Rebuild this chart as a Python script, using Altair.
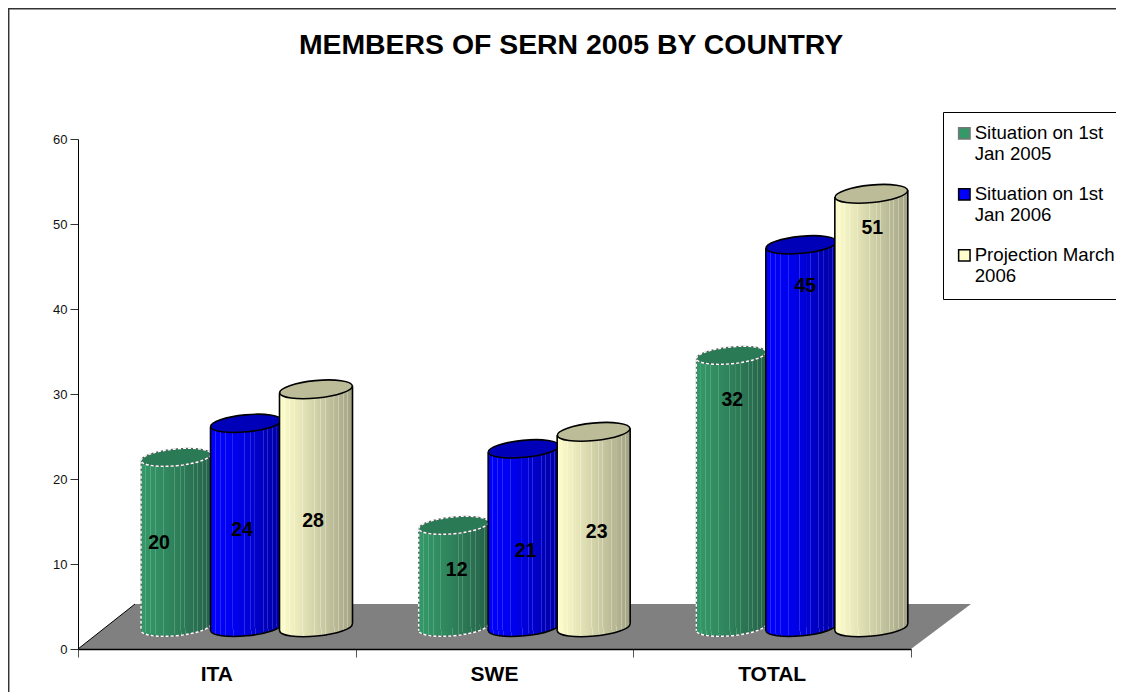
import altair as alt
import pandas as pd

categories = ["ITA", "SWE", "TOTAL"]
series = ["Situation on 1st Jan 2005", "Situation on 1st Jan 2006", "Projection March 2006"]
values_2005 = [20, 12, 32]
values_2006 = [24, 21, 45]
values_proj = [28, 23, 51]
all_values = [values_2005, values_2006, values_proj]

# --- layout constants (pixels of the reference, turned into data units below)
PW, PH = 833, 510
BAND = PW / 3
UNIT = PH / 60
BASE = 2.55                # cylinder base sits up the floor
TILT = 3.5 / UNIT
FIRST = 98 / BAND
STEP = 70 / BAND
half_w = [35, 35.5, 36.5]
floor_depth = 45 / UNIT

label_x_px = [[81, 164, 235], [101, 170, 241], [99, 172, 239]]
label_y_px = [[542, 529, 520], [569, 550, 531], [399, 285, 227]]

def lerp(c1, c2, t):
    a = [int(c1[i:i+2], 16) for i in (1, 3, 5)]
    b = [int(c2[i:i+2], 16) for i in (1, 3, 5)]
    return "#" + "".join(f"{round(x+(y-x)*t):02x}" for x, y in zip(a, b))

rib_pos = [.06, .13, .2, .31, .47, .56, .62, .74, .8, .87, .93]

def grad(c0, c1, c2, rib):
    def base(t):
        return lerp(c0, c1, t / .35) if t < .35 else lerp(c1, c2, (t - .35) / .65)
    stops = [{"offset": 0, "color": c0}, {"offset": .35, "color": c1}]
    for p in rib_pos:
        b = base(p)
        l = lerp(b, rib, .3)
        stops += [{"offset": p - .001, "color": b}, {"offset": p, "color": l},
                  {"offset": p + .012, "color": l}, {"offset": p + .013, "color": base(p + .013)}]
    stops.append({"offset": 1, "color": c2})
    stops.sort(key=lambda s: s["offset"])
    return {"x1": 0, "x2": 1, "y1": 0, "y2": 0, "gradient": "linear", "stops": stops}

grads = [grad("#349a69", "#30895f", "#26624a", "#9fd0b5"),
         grad("#0000ff", "#0000ee", "#0000a0", "#8a8aff"),
         grad("#ffffcc", "#e0e0b4", "#a3a384", "#ffffff")]
top_fill = ["#2a7a55", "#0000b8", "#bcbc98"]
swatch = ["#339966", "#0000ff", "#ffffcc"]
swatch_stroke = ["#777777", "#000000", "#000000"]

ELLIPSE = ("M-1,0 C-1,-0.1325 -0.5523,-0.24 0,-0.24 C0.5523,-0.24 1,-0.1325 1,0 "
           "C1,0.1325 0.5523,0.24 0,0.24 C-0.5523,0.24 -1,0.1325 -1,0 Z")

xs = alt.Scale(domain=[0, 3], nice=False)
ys = alt.Scale(domain=[0, 60], nice=False)
x_axis = alt.Axis(values=[0, 1, 2, 3], labels=False, title=None, grid=False, tickSize=8,
                  domainColor="black", domainWidth=1.3, tickColor="#555555", zindex=1)
y_axis = alt.Axis(values=list(range(0, 61, 10)), title=None, grid=False, tickSize=8,
                  domainColor="black", tickColor="#333333", labelFont="Liberation Sans",
                  labelFontSize=13, labelColor="#111111", labelPadding=3, zindex=1)
X = lambda f="x": alt.X(f"{f}:Q", scale=xs, axis=x_axis)
Y = lambda f="y": alt.Y(f"{f}:Q", scale=ys, axis=y_axis)

# records
centres = []
for j, s in enumerate(series):
    for i, c in enumerate(categories):
        centres.append({"country": c, "series": s, "j": j, "value": all_values[j][i],
                        "x": i + FIRST + j * STEP, "y": all_values[j][i] / 2 + BASE,
                        "ytop": all_values[j][i] + BASE, "ybase": BASE})
cdf = pd.DataFrame(centres)

# hidden behind the cylinders: gives the legend
legend_layer = alt.Chart(cdf).mark_point(filled=True, shape="square", size=20, opacity=1).encode(
    x=X(), y=Y(),
    fill=alt.Fill("series:N", scale=alt.Scale(domain=series, range=swatch), legend=alt.Legend(
        title=None, orient="none", legendX=865, legendY=-27, symbolType="square", symbolSize=130,
        symbolStrokeWidth=1.5, labelFont="Liberation Sans", labelFontSize=18.67, labelColor="black",
        labelLimit=190, labelOffset=1, strokeColor="black", fillColor="white", padding=12,
        cornerRadius=0, rowPadding=20, columnPadding=0,
        labelExpr="datum.label == 'Projection March 2006' ? ['Projection March', '2006'] : "
                  "[slice(datum.label, 0, 16), slice(datum.label, 17)]")),
    stroke=alt.Stroke("series:N", scale=alt.Scale(domain=series, range=swatch_stroke), legend=None),
)

# floor
fx0, fx1, fx2, fx3 = 0, 57 / BAND, 3, 3 + 60 / BAND
floor_df = pd.DataFrame({"x": [fx0, fx1, fx2, fx3],
                         "y": [0, floor_depth, floor_depth, floor_depth],
                         "y2": [0, 0, 0, floor_depth]})
floor = alt.Chart(floor_df).mark_area(fill="#808080", orient="vertical").encode(
    x=X(), y=Y(), y2="y2:Q")
floor_edge = alt.Chart(floor_df.iloc[:2]).mark_line(color="black", strokeWidth=1).encode(x=X(), y=Y())

layers = [legend_layer, floor, floor_edge]

for j in range(3):
    d = cdf[cdf.j == j]
    hw = half_w[j] / BAND
    size = (2 * half_w[j]) ** 2
    is_green = j == 0
    body_rows = []
    for rec in d.to_dict("records"):
        body_rows.append({"country": rec["country"], "x": rec["x"] - hw,
                          "y": rec["ytop"] - TILT, "y2": rec["ybase"] - TILT})
        body_rows.append({"country": rec["country"], "x": rec["x"] + hw,
                          "y": rec["ytop"] + TILT, "y2": rec["ybase"] + TILT})
    bdf = pd.DataFrame(body_rows)

    def ellipse(field, fill, stroke, width, dash=None):
        kw = dict(filled=True, shape=ELLIPSE, size=size, angle=354.5, opacity=1, fill=fill,
                  stroke=stroke, strokeWidth=width)
        if dash:
            kw["strokeDash"] = dash
        return alt.Chart(d).mark_point(**kw).encode(x=X(), y=Y(field))

    def sides(stroke, width, dash=None):
        kw = dict(stroke=stroke, strokeWidth=width)
        if dash:
            kw["strokeDash"] = dash
        return alt.Chart(bdf).mark_rule(**kw).encode(x=X(), y=Y(), y2="y2:Q")

    stroke = "#555555" if is_green else "black"
    sw = 1 if is_green else 1.6
    layers.append(ellipse("ybase", grads[j], stroke, sw))
    if is_green:
        layers.append(ellipse("ybase", "transparent", "white", 1.4, [3, 2]))
    layers.append(alt.Chart(bdf).mark_area(fill=grads[j], strokeWidth=0).encode(
        x=X(), y=Y(), y2="y2:Q", detail="country:N"))
    layers.append(sides(stroke, sw))
    if is_green:
        layers.append(sides("white", 1.4, [3, 2]))
    layers.append(ellipse("ytop", top_fill[j], stroke, sw))
    if is_green:
        layers.append(ellipse("ytop", "transparent", "white", 1.4, [3, 2]))

# data labels
lab = []
for i in range(3):
    for j in range(3):
        lab.append({"x": i + label_x_px[i][j] / BAND, "y": (649 - label_y_px[i][j]) / UNIT,
                    "value": all_values[j][i]})
labels = alt.Chart(pd.DataFrame(lab)).mark_text(
    font="Liberation Sans", fontWeight="bold", fontSize=19.5, color="black", dy=1
).encode(x=X(), y=Y(), text="value:Q")

# category labels
cat_df = pd.DataFrame({"country": categories, "x": [i + .5 for i in range(3)]})
cats = alt.Chart(cat_df).mark_text(
    font="Liberation Sans", fontWeight="bold", fontSize=21, color="black", baseline="middle"
).encode(x=X(), y=alt.value(536), text="country:N")

# chart frame: open on the right and at the bottom, as in the reference
frame = alt.Chart(alt.Data(values=[{}])).mark_rect(fill="white", stroke="#333333", strokeWidth=1.5).encode(
    x=alt.value(-69.3), x2=alt.value(1100), y=alt.value(-130.3), y2=alt.value(600))

chart = alt.layer(frame, *layers, labels, cats).properties(
    width=PW, height=PH,
    title=alt.TitleParams("MEMBERS OF SERN 2005 BY COUNTRY", font="Liberation Sans", fontWeight="bold",
                          fontSize=28.4, color="black", anchor="middle", frame="group", dx=76.5, offset=-52),
    padding={"left": 70, "top": 131, "right": 205, "bottom": 43},
    autosize=alt.AutoSizeParams(type="none"),
).configure_view(stroke=None).configure(
    background="white",
    style={"guide-label": {"lineHeight": 21}},
).resolve_scale(x="shared", y="shared")

chart.save("out.html", embed_options={"renderer": "svg", "actions": False})
